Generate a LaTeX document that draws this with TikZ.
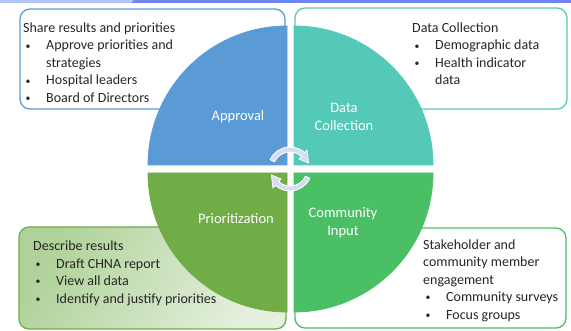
\documentclass[tikz,border=0pt]{standalone}
\usepackage{graphicx}
\usepackage{fontspec}
\setmainfont{Carlito}
\usetikzlibrary{positioning}

\definecolor{apprBlue}{HTML}{5B9BD5}
\definecolor{dataTeal}{HTML}{55C9B7}
\definecolor{prioGreen}{HTML}{70AD47}
\definecolor{commGreen}{HTML}{4BBF66}
\definecolor{arrowFill}{HTML}{D5DDEE}
\definecolor{bandLight}{HTML}{B3C5F9}
\definecolor{bandDark}{HTML}{6E86F3}

% bullet with hanging space
\newcommand{\bul}{\makebox[23pt][l]{\hspace{2.5pt}\raisebox{0.8pt}{\scalebox{0.7}{\textbullet}}}}

\begin{document}
\begin{tikzpicture}[x=1pt,y=1pt,
  infobox/.style={rounded corners=10pt, line width=1.3pt, fill=white},
  boxtext/.style={anchor=north west, inner sep=0pt, align=left,
    font=\fontsize{14}{17.5}\selectfont, text=black!85},
  quad/.style={draw=white, line width=0.8pt},
  quadlabel/.style={align=center, text=white, font=\fontsize{14.5}{17.5}\selectfont},
  cycarrow/.style={fill=arrowFill, draw=white, line width=0.8pt}]
\useasboundingbox (0,0) rectangle (571,331);

% Top band
\fill[bandDark] (0,328) rectangle (571,331);
\fill[bandLight] (0,328) -- (131,328) -- (134,331) -- (0,331) -- cycle;

% Info boxes
\draw[infobox, draw=apprBlue] (20,222) rectangle (285,322);
\draw[infobox, draw=dataTeal] (295,222) rectangle (567,323);
\draw[infobox, draw=prioGreen, left color=prioGreen!55!white, right color=prioGreen!18!white,
  shading angle=60] (19,2) rectangle (286,104);
\draw[infobox, draw=commGreen] (295,3) rectangle (566,103);

% Quadrants
\fill[quad, apprBlue] (287,166) -- ++(180:139pt) arc[start angle=180, end angle=90, radius=139pt] -- cycle;
\fill[quad, dataTeal] (294,166) -- ++(90:139pt) arc[start angle=90, end angle=0, radius=139pt] -- cycle;
\fill[quad, prioGreen] (287,158) -- ++(270:139pt) arc[start angle=270, end angle=180, radius=139pt] -- cycle;
\fill[quad, commGreen] (294,158) -- ++(0:139pt) arc[start angle=0, end angle=-90, radius=139pt] -- cycle;

% Cycle arrows
\begin{scope}[shift={(290,162)}]
\filldraw[cycarrow] (155:22pt) arc[start angle=155, end angle=48, radius=22pt]
  -- (48:25.5pt) -- (18:19.5pt) -- (48:13.5pt) -- (48:17pt)
  arc[start angle=48, end angle=155, radius=17pt] -- cycle;
\filldraw[cycarrow, rotate=180] (155:22pt) arc[start angle=155, end angle=48, radius=22pt]
  -- (48:25.5pt) -- (18:19.5pt) -- (48:13.5pt) -- (48:17pt)
  arc[start angle=48, end angle=155, radius=17pt] -- cycle;
\end{scope}

% Quadrant labels
\node[quadlabel] (approval) at (238,214) {Approval};
\node[quadlabel] (datacoll) at (344,214) {Data\\Collection};
\node[quadlabel] (prioritize) at (236,112) {Prioritization};
\node[quadlabel] (community) at (343,108.5) {Community\\Input};

% Box texts
\node[boxtext] (approveText) at (23,308.5) {Share results and priorities\\
  \bul Approve priorities and\\
  \hspace*{23pt}strategies\\
  \bul Hospital leaders\\
  \bul Board of Directors};
\node[boxtext] (dataText) at (412,308.5) {Data Collection\\
  \bul Demographic data\\
  \bul Health indicator\\
  \hspace*{23pt}data};
\node[boxtext] (prioText) at (33,90.3) {Describe results\\
  \bul Draft CHNA report\\
  \bul View all data\\
  \bul Identify and justify priorities};
\node[boxtext] (commText) at (423,91.8) {Stakeholder and\\
  community member\\
  engagement\\
  \bul Community surveys\\
  \bul Focus groups};
\end{tikzpicture}
\end{document}
